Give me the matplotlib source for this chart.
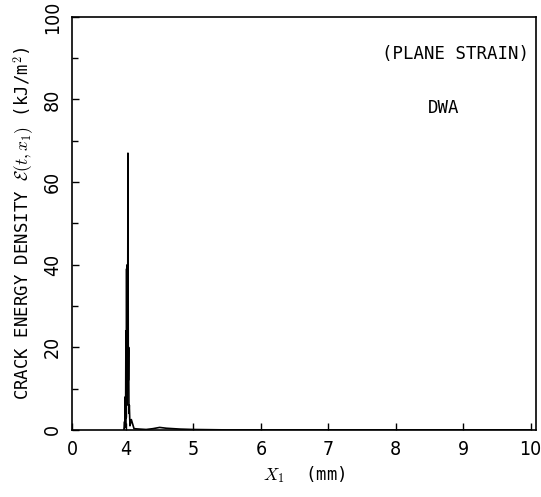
"""Crack energy density along the crack line (plane strain, DWA)."""
import matplotlib
matplotlib.use("Agg")
import matplotlib.pyplot as plt
from matplotlib.ticker import FixedLocator, MultipleLocator

plt.rcParams["font.family"] = ["DejaVu Sans"]
plt.rcParams["font.stretch"] = "condensed"
plt.rcParams["mathtext.fontset"] = "cm"

MONO = "DejaVu Sans Mono"

# distance along crack (mm) and crack energy density (kJ/m^2)
x_mm = [3.97, 3.98, 3.985, 3.99, 3.995, 4.0, 4.005, 4.01, 4.015, 4.02,
        4.025, 4.03, 4.035, 4.04, 4.045, 4.05, 4.06, 4.08, 4.12, 4.2,
        4.3, 4.4, 4.5, 4.6, 4.8, 5.0, 5.5, 6.0, 7.0, 8.0, 9.0, 10.0]
energy = [0.0, 2.0, 0.5, 8.0, 1.0, 24.0, 3.0, 39.0, 6.0, 40.0,
          10.0, 67.0, 12.0, 20.0, 4.0, 6.0, 1.0, 2.5, 0.3, 0.2,
          0.1, 0.3, 0.6, 0.4, 0.2, 0.1, 0.0, 0.0, 0.0, 0.0, 0.0, 0.0]

x_ticks = [3.2, 4, 5, 6, 7, 8, 9, 10]
x_tick_labels = ["0", "4", "5", "6", "7", "8", "9", "10"]
y_ticks = [0, 20, 40, 60, 80, 100]

fig = plt.figure(figsize=(5.41, 4.97), dpi=100)
ax = fig.add_axes([0.133, 0.135, 0.858, 0.831])

ax.plot(x_mm, energy, color="black", lw=1.2)

ax.set_xlim(3.2, 10.08)
ax.set_ylim(0, 100)
ax.xaxis.set_major_locator(FixedLocator(x_ticks))
ax.set_xticklabels(x_tick_labels)
ax.yaxis.set_major_locator(FixedLocator(y_ticks))
ax.yaxis.set_minor_locator(MultipleLocator(10))
for lbl in ax.get_yticklabels():
    lbl.set_rotation(90)
    lbl.set_va("center")

ax.tick_params(direction="in", length=5, width=1, labelsize=14, pad=7)
ax.tick_params(which="minor", direction="in", length=4, width=1)
for s in ax.spines.values():
    s.set_linewidth(1.2)

ax.set_xlabel(r"$X_{\mathit{1}}$  (mm)", fontsize=12.5, family=MONO, labelpad=4)
ax.set_ylabel(r"CRACK ENERGY DENSITY $\mathcal{E}(t,x_{\mathit{1}})$ (kJ/m$^{2}$)",
              fontsize=12.5, family=MONO, labelpad=5)

ax.text(0.985, 0.91, "(PLANE STRAIN)", transform=ax.transAxes, ha="right",
        va="center", fontsize=12.5, family=MONO)
ax.text(0.80, 0.78, "DWA", transform=ax.transAxes, ha="center",
        va="center", fontsize=12.5, family=MONO)

fig.savefig("out.png", dpi=100)
